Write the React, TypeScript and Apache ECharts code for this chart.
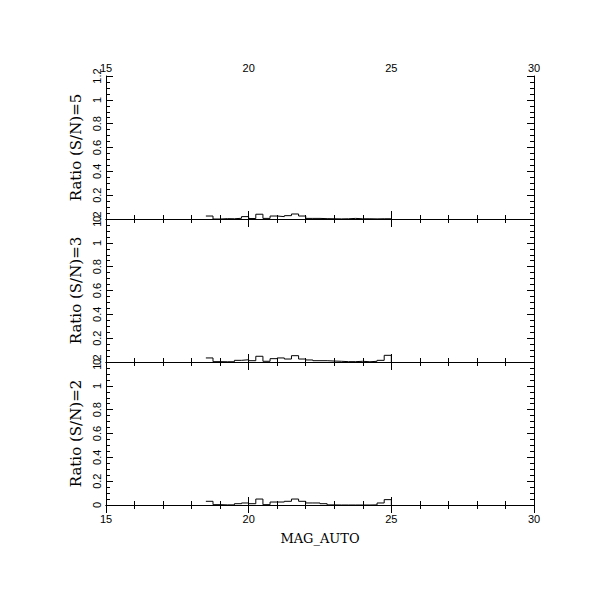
import React, { useEffect, useRef } from "react";
import * as echarts from "echarts";

// Histogram bin left edges (MAG_AUTO), bin width 0.25
const binEdges = [
  18.5, 18.75, 19.0, 19.25, 19.5, 19.75, 20.0, 20.25, 20.5, 20.75, 21.0, 21.25, 21.5,
  21.75, 22.0, 22.25, 22.5, 22.75, 23.0, 23.25, 23.5, 23.75, 24.0, 24.25, 24.5, 24.75,
];
const lastEdge = 25.0;

const ratioSN5 = [
  0.025, 0.0, 0.003, 0.002, 0.006, 0.02, 0.004, 0.04, 0.005, 0.025, 0.02, 0.028, 0.042,
  0.025, 0.005, 0.005, 0.003, 0.002, 0.001, 0.002, 0.005, 0.002, 0.002, 0.001, 0.002, 0.002,
];
const ratioSN3 = [
  0.034, 0.003, 0.002, 0.002, 0.014, 0.019, 0.011, 0.048, 0.006, 0.028, 0.034, 0.025, 0.053,
  0.025, 0.017, 0.011, 0.011, 0.008, 0.006, 0.003, 0.003, 0.006, 0.002, 0.006, 0.014, 0.056,
];
const ratioSN2 = [
  0.031, 0.003, 0.001, 0.001, 0.011, 0.017, 0.011, 0.05, 0.003, 0.025, 0.025, 0.031, 0.05,
  0.031, 0.017, 0.017, 0.011, 0.001, 0.0, 0.0, 0.0, 0.0, 0.0, 0.001, 0.017, 0.045,
];

const panels = [
  { name: "Ratio (S/N)=5", values: ratioSN5 },
  { name: "Ratio (S/N)=3", values: ratioSN3 },
  { name: "Ratio (S/N)=2", values: ratioSN2 },
];

const xTicks = { min: 15, max: 30, interval: 5 };
const yTicks = { min: 0, max: 1.2, interval: 0.2 };

const PLOT_LEFT = 106;
const PLOT_TOP = 76;
const PLOT_W = 428;
const PANEL_H = 143;

export default function App() {
  const ref = useRef<HTMLDivElement>(null);

  useEffect(() => {
    if (!ref.current) return;
    const chart = echarts.init(ref.current, undefined, { renderer: "svg" });

    const black = "#000";
    const labelFont = { color: black, fontFamily: "Liberation Sans, Arial, sans-serif", fontSize: 10 };

    const grids: any[] = [];
    const xAxes: any[] = [];
    const yAxes: any[] = [];
    const series: any[] = [];

    panels.forEach((p, i) => {
      grids.push({ left: PLOT_LEFT, top: PLOT_TOP + PANEL_H * i, width: PLOT_W, height: PANEL_H });
      const baseX = {
        gridIndex: i,
        type: "value",
        min: xTicks.min,
        max: xTicks.max,
        interval: xTicks.interval,
        splitLine: { show: false },
        axisLine: { show: true, lineStyle: { color: black, width: 1 } },
        axisTick: { show: true, inside: true, length: 8, lineStyle: { color: black } },
        minorTick: { show: true, splitNumber: 5, length: 4, lineStyle: { color: black } },
        minorSplitLine: { show: false },
      };
      xAxes.push({
        ...baseX,
        position: "bottom",
        axisLabel: { show: i === 2, margin: 8, ...labelFont, fontSize: 11 },
        name: i === 2 ? "MAG_AUTO" : "",
        nameLocation: "middle",
        nameGap: 27,
        nameTextStyle: { color: black, fontFamily: "DejaVu Serif, serif", fontSize: 13 },
      });
      xAxes.push({
        ...baseX,
        position: "top",
        axisLabel: { show: i === 0, margin: 3, ...labelFont, fontSize: 11 },
      });
      const baseY = {
        gridIndex: i,
        type: "value",
        min: yTicks.min,
        max: yTicks.max,
        interval: yTicks.interval,
        splitLine: { show: false },
        axisLine: { show: true, lineStyle: { color: black, width: 1 } },
        axisTick: { show: true, inside: true, length: 7, lineStyle: { color: black } },
        minorTick: { show: true, splitNumber: 4, length: 4, lineStyle: { color: black } },
        minorSplitLine: { show: false },
      };
      yAxes.push({
        ...baseY,
        position: "left",
        axisLabel: { show: true, rotate: 90, margin: 4, ...labelFont, fontSize: 11, showMinLabel: true, showMaxLabel: true },
        name: p.name,
        nameLocation: "middle",
        nameGap: 16,
        nameRotate: 90,
        nameTextStyle: { color: black, fontFamily: "DejaVu Serif, serif", fontSize: 15 },
      });
      yAxes.push({
        ...baseY,
        position: "right",
        axisLabel: { show: false },
      });

      const data: [number, number][] = binEdges.map((e, k) => [e, p.values[k]]);
      data.push([lastEdge, 0]);
      series.push({
        type: "line",
        xAxisIndex: 2 * i,
        yAxisIndex: 2 * i,
        step: "end",
        showSymbol: false,
        symbol: "none",
        lineStyle: { color: black, width: 1 },
        data,
      });
    });

    chart.setOption({
      animation: false,
      backgroundColor: "#fff",
      grid: grids,
      xAxis: xAxes,
      yAxis: yAxes,
      series,
    });

    return () => chart.dispose();
  }, []);

  return (
    <div
      ref={ref}
      style={{ position: "fixed", left: 0, top: 0, width: 611, height: 611, background: "#fff" }}
    />
  );
}
